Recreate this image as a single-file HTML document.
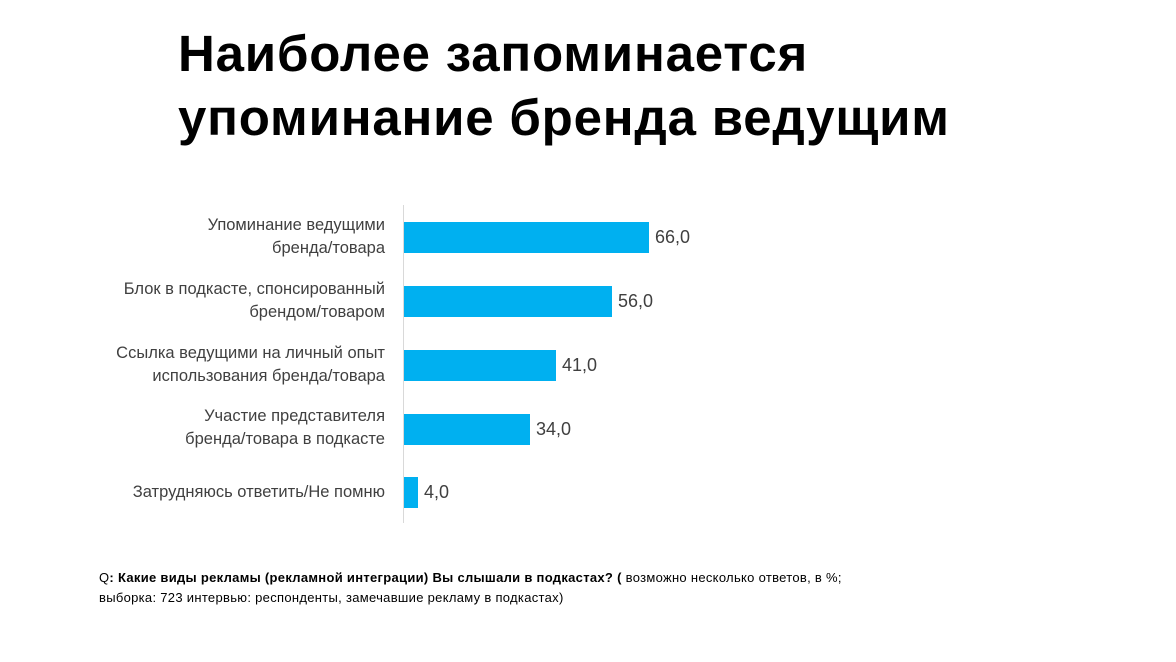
<!DOCTYPE html>
<html><head><meta charset="utf-8"><style>
body{margin:0;width:1176px;height:662px;background:#fff;position:relative;overflow:hidden;font-family:"Liberation Sans","DejaVu Sans",sans-serif}
.t{position:absolute;left:178px;top:22px;font-size:51px;font-weight:bold;line-height:64px;color:#000;letter-spacing:0.8px}
.ax{position:absolute;left:403px;top:205px;width:1px;height:318px;background:#d9d9d9}
.bar{position:absolute;left:404px;height:31px;background:#00b0f0}
.v{position:absolute;font-size:18px;color:#404040}
.l{position:absolute;right:791px;text-align:right;font-size:16.5px;line-height:23px;color:#404040;white-space:nowrap}
.q{position:absolute;left:99px;top:568px;font-size:13px;line-height:20px;color:#000;letter-spacing:0.3px}
</style></head><body>
<div class="t">Наиболее запоминается<br>упоминание бренда ведущим</div>
<div class="ax"></div>
<div class="l" style="top:214px">Упоминание ведущими<br>бренда/товара</div>
<div class="l" style="top:278px">Блок в подкасте, спонсированный<br>брендом/товаром</div>
<div class="l" style="top:342px">Ссылка ведущими на личный опыт<br>использования бренда/товара</div>
<div class="l" style="top:405px">Участие представителя<br>бренда/товара в подкасте</div>
<div class="l" style="top:481px">Затрудняюсь ответить/Не помню</div>
<div class="bar" style="top:222px;width:245px"></div><div class="v" style="left:655px;top:227px">66,0</div>
<div class="bar" style="top:286px;width:208px"></div><div class="v" style="left:618px;top:291px">56,0</div>
<div class="bar" style="top:350px;width:152px"></div><div class="v" style="left:562px;top:355px">41,0</div>
<div class="bar" style="top:414px;width:126px"></div><div class="v" style="left:536px;top:419px">34,0</div>
<div class="bar" style="top:477px;width:14px"></div><div class="v" style="left:424px;top:482px">4,0</div>
<div class="q">Q<b>: Какие виды рекламы (рекламной интеграции) Вы слышали в подкастах? (</b> возможно несколько ответов, в %;<br>выборка: 723 интервью: респонденты, замечавшие рекламу в подкастах)</div>
</body></html>
